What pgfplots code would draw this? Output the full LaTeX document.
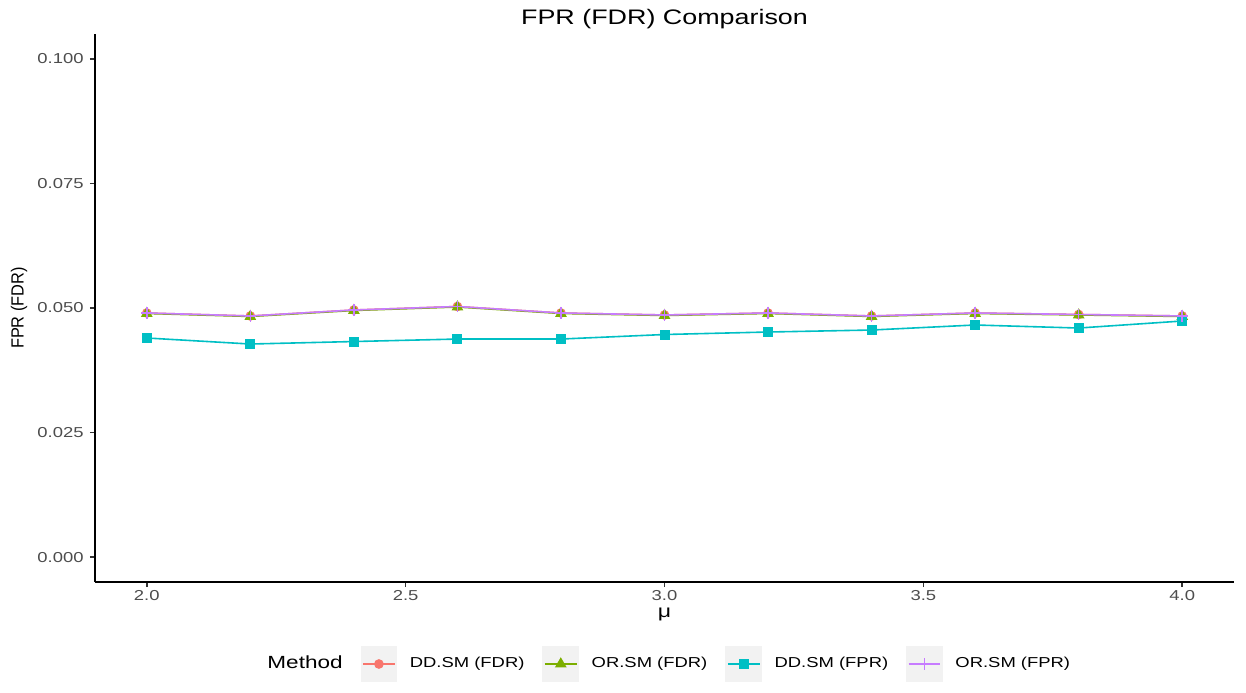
\documentclass[border=0pt]{standalone}
\usepackage{pgfplots}
\pgfplotsset{compat=1.18}
\usepackage{pgfplotstable}
\usepackage{fontspec}
\setmainfont{Liberation Sans}[FakeStretch=1.28]
\newfontfamily\ylabfont{Liberation Sans}[FakeStretch=0.93]

\definecolor{cred}{HTML}{F8766D}
\definecolor{cgreen}{HTML}{7CAE00}
\definecolor{ccyan}{HTML}{00BFC4}
\definecolor{cpurple}{HTML}{C77CFF}
\definecolor{keybg}{HTML}{F2F2F2}
\definecolor{gray30}{HTML}{4D4D4D}
\definecolor{gray20}{HTML}{333333}

% FDR of both methods and FPR of OR.SM (nearly identical)
\pgfplotstableread{
mu    ddfdr   orfdr   orfpr
2.0   0.0490  0.0489  0.0490
2.2   0.0484  0.0483  0.0484
2.4   0.0496  0.0495  0.0496
2.6   0.0503  0.0502  0.0503
2.8   0.0490  0.0489  0.0490
3.0   0.0486  0.0485  0.0486
3.2   0.0490  0.0489  0.0490
3.4   0.0484  0.0483  0.0484
3.6   0.0490  0.0489  0.0490
3.8   0.0487  0.0486  0.0487
4.0   0.0484  0.0483  0.0484
}\fdrtab

% FPR of DD.SM
\pgfplotstableread{
mu    ddfpr
2.0   0.04398
2.2   0.04277
2.4   0.04327
2.6   0.04377
2.8   0.04377
3.0   0.04468
3.2   0.04518
3.4   0.04558
3.6   0.04659
3.8   0.04598
4.0   0.04739
}\fprtab

\begin{document}
\begin{tikzpicture}
\path[use as bounding box] (-47.5pt,-55pt) rectangle (575.5pt,291pt);
\begin{axis}[
    at={(0pt,0pt)}, anchor=south west,
    width=569.5pt, height=274pt, scale only axis,
    xmin=1.9, xmax=4.1, ymin=-0.005, ymax=0.105,
    axis lines*=left,
    axis line style={black, line width=1pt, -},
    xtick={2,2.5,3,3.5,4},
    ytick={0,0.025,0.05,0.075,0.1},
    scaled y ticks=false,
    tick align=outside, major tick length=2.5pt,
    tick style={gray20, line width=0.8pt},
    /pgf/number format/assume math mode=true,
    xticklabel style={/pgf/number format/.cd, fixed, fixed zerofill, precision=1, /tikz/.cd,
        font=\fontsize{7.2}{8.6}\selectfont, text=gray30, anchor=base, inner sep=0pt, yshift=-6.5pt},
    yticklabel style={/pgf/number format/.cd, fixed, fixed zerofill, precision=3, /tikz/.cd,
        font=\fontsize{7.2}{8.6}\selectfont, text=gray30, anchor=east, inner sep=0pt, xshift=-3pt},
    title={FPR (FDR) Comparison},
    title style={at={(axis description cs:0.5,1)}, anchor=base, inner sep=0pt, yshift=-1pt,
        font=\fontsize{10.5}{12}\selectfont},
    xlabel={μ},
    xlabel style={at={(axis description cs:0.5,0)}, anchor=base, inner sep=0pt, yshift=-17.5pt,
        font=\fontsize{9}{10}\selectfont},
    ylabel={FPR (FDR)},
    ylabel style={at={(axis description cs:0,0.5)}, anchor=center, inner sep=0pt, yshift=38pt,
        font=\ylabfont\fontsize{8.8}{10}\selectfont},
    legend columns=5,
    legend style={draw=none, fill=none, at={(axis description cs:0.5,0)}, anchor=center,
        yshift=-41pt, font=\fontsize{7.2}{8.6}\selectfont,
        /tikz/every odd column/.append style={column sep=4.3pt},
        /tikz/every even column/.append style={column sep=7pt}},
    legend image code/.code={
        \fill[keybg] (0pt,-8.75pt) rectangle (17.5pt,8.75pt);
        \draw[mark repeat=2, mark phase=2, #1] plot coordinates {(0.8pt,0pt) (8.75pt,0pt) (16.7pt,0pt)};
    },
]
\addlegendimage{empty legend}
\addlegendentry{\fontsize{8.8}{10}\selectfont Method\hspace{3pt}}
\addplot[cred, line width=0.8pt, mark=*, mark size=2pt] table[x=mu, y=ddfdr] {\fdrtab};
\addlegendentry{DD.SM (FDR)}
\addplot[cgreen, line width=0.8pt, mark=triangle*, mark size=2.6pt] table[x=mu, y=orfdr] {\fdrtab};
\addlegendentry{OR.SM (FDR)}
\addplot[ccyan, line width=0.8pt, mark=square*, mark size=2.1pt] table[x=mu, y=ddfpr] {\fprtab};
\addlegendentry{DD.SM (FPR)}
\addplot[cpurple, line width=0.8pt, mark=+, mark size=2.8pt, mark options={line width=0.8pt}] table[x=mu, y=orfpr] {\fdrtab};
\addlegendentry{OR.SM (FPR)}
\end{axis}
\end{tikzpicture}
\end{document}
